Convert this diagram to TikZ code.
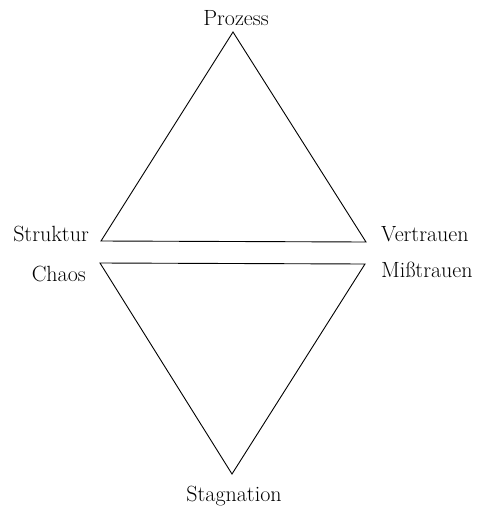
\documentclass[tikz,border=0pt]{standalone}
\usepackage{tikz}
\usetikzlibrary{calc}

\tikzset{
  lbl/.style={inner sep=0pt,font=\fontsize{22}{25}\selectfont},
  tri/.style={line width=0.9pt,line join=miter}
}

\begin{document}
\begin{tikzpicture}[x=1pt,y=-1pt]
\useasboundingbox (0,0) rectangle (481,507);

% Upper triangle
\coordinate (top) at (233,32);
\coordinate (sl) at (101,241);
\coordinate (sr) at (366,242);
\draw[tri] (top) -- (sr) -- (sl) -- cycle;

% Lower triangle
\coordinate (cl) at (100,263);
\coordinate (cr) at (365,264);
\coordinate (bot) at (232,474);
\draw[tri] (cl) -- (cr) -- (bot) -- cycle;

% Labels
\node[lbl,anchor=base] (prozess) at (236,25) {Prozess};
\node[lbl,anchor=base east] (struktur) at (89,241) {Struktur};
\node[lbl,anchor=base west] (vertrauen) at (381,241) {Vertrauen};
\node[lbl,anchor=base east] (chaos) at (86,281) {Chaos};
\node[lbl,anchor=base west] (misstrauen) at (381,277) {Mißtrauen};
\node[lbl,anchor=base] (stagnation) at (234,501) {Stagnation};
\end{tikzpicture}
\end{document}
